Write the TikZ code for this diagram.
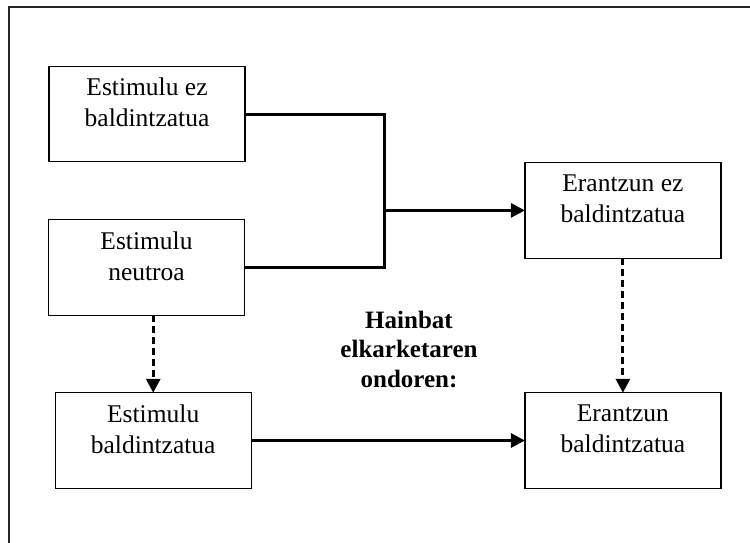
\documentclass[tikz,border=0pt]{standalone}
\usepackage{fontspec}
\setmainfont{Liberation Serif}
\usetikzlibrary{arrows.meta}
\tikzset{
  box/.style={draw=black, line width=1.2pt, minimum width=196pt, minimum height=95.5pt,
    inner sep=0pt, outer sep=0pt, align=center,
    font=\fontsize{25.5}{31}\selectfont, text depth=23pt},
  conn/.style={line width=3pt, black},
  dconn/.style={line width=3pt, black, dash pattern=on 7pt off 4pt},
  tip/.style={-{Triangle[length=14pt,width=14pt]}},
  frame/.style={line width=2pt, black!85},
  lbl/.style={align=center, font=\fontsize{25}{29.5}\selectfont\bfseries, inner sep=0pt}
}
\begin{document}
\begin{tikzpicture}[x=1pt,y=-1pt]
\useasboundingbox (0,0) rectangle (750,542);
\draw[frame] (8.5,545) -- (8.5,6.5) -- (752,6.5);
\node[box] (A) at (147,114) {Estimulu ez\\baldintzatua};
\node[box] (B) at (146.5,267.5) {Estimulu\\neutroa};
\node[box] (C) at (153.2,440.5) {Estimulu\\baldintzatua};
\node[box] (D) at (622.9,210.4) {Erantzun ez\\baldintzatua};
\node[box] (E) at (622.9,440.5) {Erantzun\\baldintzatua};
\node[lbl] (L) at (409,349) {Hainbat\\elkarketaren\\ondoren:};
\coordinate (J) at (384,210.4);
\draw[conn] (A.east) -| (J) |- (B.east);
\draw[conn,tip] (J) -- (D.west);
\draw[dconn,tip] (C.north |- B.south) -- (C.north);
\draw[dconn,tip] (D.south) -- (E.north);
\draw[conn,tip] (C.east) -- (E.west);
\end{tikzpicture}
\end{document}
